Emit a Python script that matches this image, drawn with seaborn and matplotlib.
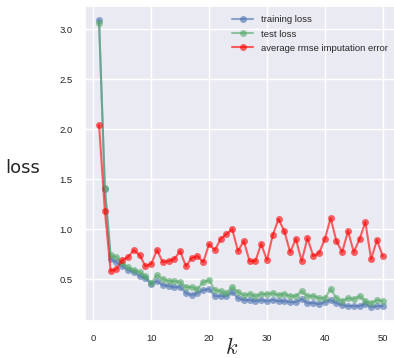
import numpy as np
import pandas as pd
import matplotlib
matplotlib.use("Agg")
import matplotlib.pyplot as plt
import seaborn as sns

k = list(range(1, 51))

training_loss = [
    3.09, 1.40, 0.70, 0.67, 0.63, 0.59, 0.57, 0.53, 0.51, 0.45,
    0.48, 0.44, 0.43, 0.42, 0.42, 0.36, 0.34, 0.36, 0.39, 0.40,
    0.33, 0.33, 0.33, 0.37, 0.31, 0.29, 0.29, 0.28, 0.29, 0.28,
    0.29, 0.28, 0.28, 0.27, 0.27, 0.30, 0.26, 0.26, 0.25, 0.27,
    0.29, 0.26, 0.24, 0.23, 0.23, 0.23, 0.25, 0.22, 0.23, 0.23,
]

test_loss = [
    3.06, 1.41, 0.74, 0.72, 0.66, 0.62, 0.59, 0.57, 0.53, 0.46,
    0.54, 0.50, 0.48, 0.48, 0.47, 0.42, 0.42, 0.40, 0.47, 0.49,
    0.39, 0.38, 0.36, 0.42, 0.37, 0.34, 0.35, 0.33, 0.35, 0.35,
    0.36, 0.34, 0.35, 0.33, 0.33, 0.38, 0.33, 0.33, 0.31, 0.31,
    0.40, 0.31, 0.28, 0.31, 0.30, 0.33, 0.28, 0.26, 0.29, 0.28,
]

rmse_error = [
    2.04, 1.18, 0.58, 0.60, 0.69, 0.72, 0.79, 0.74, 0.63, 0.65,
    0.79, 0.67, 0.68, 0.70, 0.78, 0.63, 0.71, 0.73, 0.67, 0.85,
    0.79, 0.90, 0.95, 1.00, 0.78, 0.88, 0.68, 0.68, 0.85, 0.69,
    0.94, 1.10, 0.98, 0.77, 0.90, 0.68, 0.91, 0.73, 0.76, 0.90,
    1.11, 0.88, 0.77, 0.98, 0.77, 0.90, 1.07, 0.70, 0.89, 0.73,
]

series_names = ["training loss", "test loss", "average rmse imputation error"]
series_colors = ["#4C72B0", "#55A868", "red"]

sns.set_theme(style="darkgrid")
plt.rcParams["font.family"] = ["Liberation Sans", "DejaVu Sans"]
plt.rcParams["mathtext.fontset"] = "cm"

fig = plt.figure(figsize=(3.94, 3.58), dpi=100)
ax = fig.add_axes([84.9 / 394, 36.6 / 358, 312 / 394, 315.5 / 358])

for name, values, color in zip(series_names, [training_loss, test_loss, rmse_error], series_colors):
    df = pd.DataFrame({"k": k, "loss": values})
    sns.lineplot(
        data=df, x="k", y="loss", ax=ax, color=color, alpha=0.6,
        marker="o", markersize=5, markeredgewidth=0, linewidth=1.5,
        label=name,
    )

ax.set_xticks([0, 10, 20, 30, 40, 50])
ax.set_yticks([0.5, 1.0, 1.5, 2.0, 2.5, 3.0])
ax.tick_params(labelsize=6.8, colors="#262626", pad=3)
ax.set_xlabel("$k$", fontsize=16, va="center")
ax.xaxis.set_label_coords(0.47, -0.085)
ax.set_ylabel("loss", fontsize=13, rotation=0, family="DejaVu Sans", va="center", ha="center")
ax.yaxis.set_label_coords(-0.2, 0.485)

ax.legend(loc="upper right", frameon=False, fontsize=6.8, handlelength=2.2,
          borderaxespad=0.6, labelspacing=0.55)

fig.savefig("out.png", dpi=100)
